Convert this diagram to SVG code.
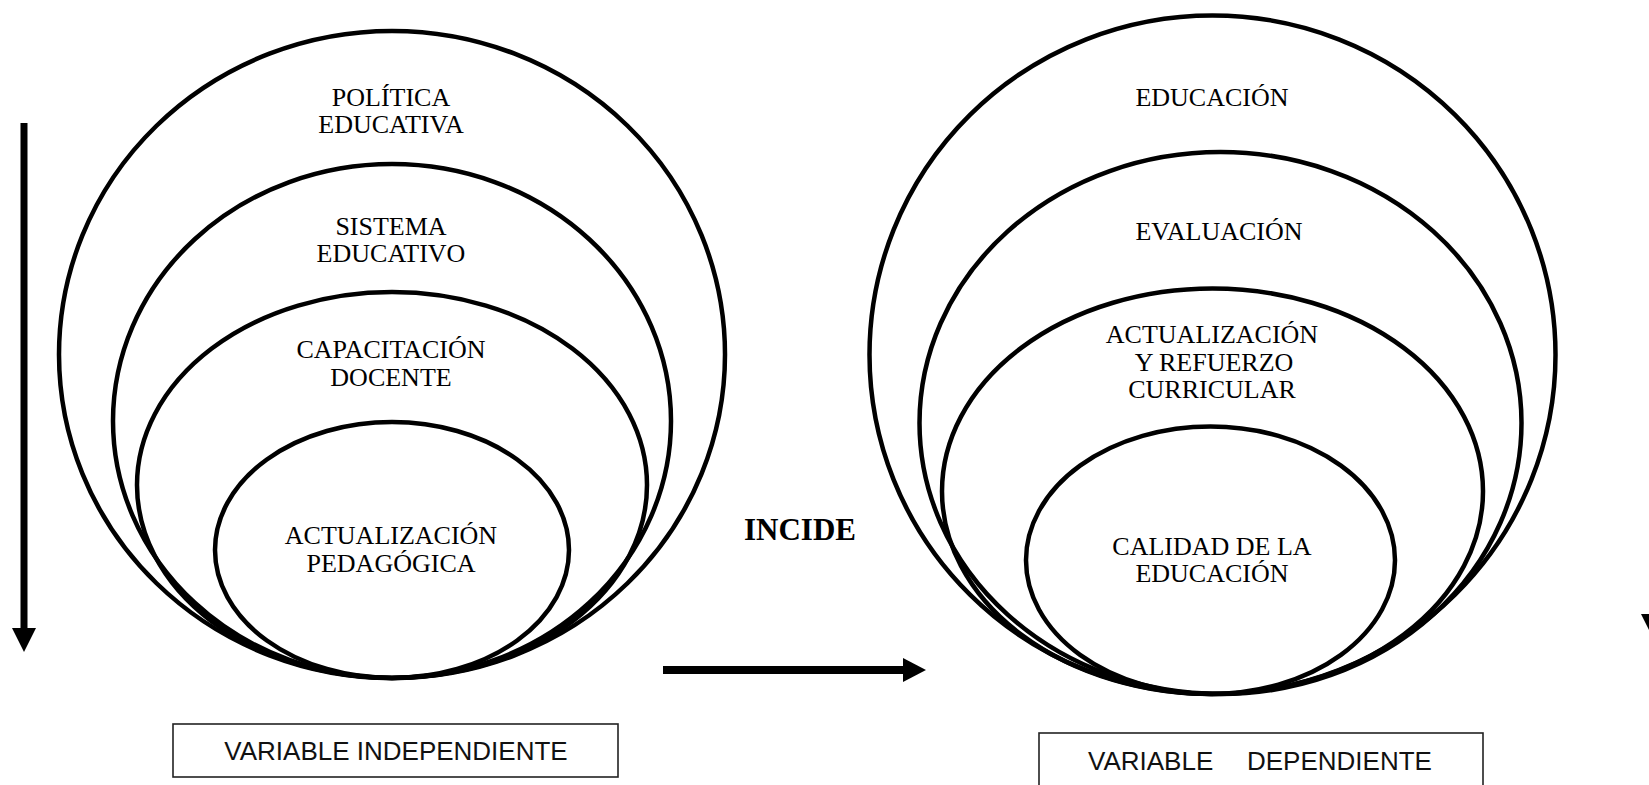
<svg xmlns="http://www.w3.org/2000/svg" width="1649" height="785" viewBox="0 0 1649 785">
<style>
.ring{fill:none;stroke:#000;stroke-width:4.5}
.lbl{font-family:"Liberation Serif","Times New Roman",serif;font-size:26px;fill:#000;text-anchor:middle}
.bold{font-family:"Liberation Serif","Times New Roman",serif;font-size:31px;font-weight:bold;fill:#000}
.box{fill:#fff;stroke:#222;stroke-width:1.6}
.boxt{font-family:"Liberation Sans",Arial,sans-serif;font-size:26px;fill:#111}
.arr{fill:#000}
</style>
<rect width="1649" height="785" fill="#fff"/>
<g id="connectors">
  <rect class="arr" x="20.5" y="123" width="7" height="506"/>
  <polygon class="arr" points="12,628 36,628 24,652"/>
  <rect class="arr" x="663" y="666" width="241" height="8"/>
  <polygon class="arr" points="903,658 926,670 903,682"/>
  <rect class="arr" x="1649.5" y="109" width="7" height="506"/>
  <polygon class="arr" points="1641,614 1665,614 1653,638"/>
</g>
<g id="independiente">
  <g id="politica-educativa">
    <ellipse class="ring" cx="392" cy="354.5" rx="333" ry="323.5"/>
    <text class="lbl" x="391" y="106">POLÍTICA</text>
    <text class="lbl" x="391" y="133">EDUCATIVA</text>
  </g>
  <g id="sistema-educativo">
    <ellipse class="ring" cx="392" cy="421" rx="279" ry="257"/>
    <text class="lbl" x="391" y="235">SISTEMA</text>
    <text class="lbl" x="391" y="262">EDUCATIVO</text>
  </g>
  <g id="capacitacion-docente">
    <ellipse class="ring" cx="392" cy="485" rx="255" ry="193"/>
    <text class="lbl" x="391" y="358">CAPACITACIÓN</text>
    <text class="lbl" x="391" y="386">DOCENTE</text>
  </g>
  <g id="actualizacion-pedagogica">
    <ellipse class="ring" cx="392" cy="550" rx="177" ry="128"/>
    <text class="lbl" x="391" y="544">ACTUALIZACIÓN</text>
    <text class="lbl" x="391" y="572">PEDAGÓGICA</text>
  </g>
  <g id="variable-independiente">
    <rect class="box" x="173" y="724" width="445" height="53"/>
    <text class="boxt" x="396" y="760" text-anchor="middle">VARIABLE INDEPENDIENTE</text>
  </g>
</g>
<g id="incide">
  <text class="bold" x="744" y="540">INCIDE</text>
</g>
<g id="dependiente">
  <g id="educacion">
    <ellipse class="ring" cx="1212.5" cy="354.75" rx="343" ry="339.25"/>
    <text class="lbl" x="1212" y="106">EDUCACIÓN</text>
  </g>
  <g id="evaluacion">
    <ellipse class="ring" cx="1220.5" cy="423" rx="301" ry="271"/>
    <text class="lbl" x="1219" y="240">EVALUACIÓN</text>
  </g>
  <g id="actualizacion-curricular">
    <ellipse class="ring" cx="1212.5" cy="491.25" rx="270.5" ry="202.75"/>
    <text class="lbl" x="1212" y="343">ACTUALIZACIÓN</text>
    <text class="lbl" x="1214" y="371">Y REFUERZO</text>
    <text class="lbl" x="1212" y="398">CURRICULAR</text>
  </g>
  <g id="calidad-educacion">
    <ellipse class="ring" cx="1210.5" cy="560.25" rx="184.5" ry="133.75"/>
    <text class="lbl" x="1212" y="555">CALIDAD DE LA</text>
    <text class="lbl" x="1212" y="582">EDUCACIÓN</text>
  </g>
  <g id="variable-dependiente">
    <rect class="box" x="1039" y="733" width="444" height="70"/>
    <text class="boxt" x="1088" y="770">VARIABLE</text>
    <text class="boxt" x="1247" y="770">DEPENDIENTE</text>
  </g>
</g>
</svg>
